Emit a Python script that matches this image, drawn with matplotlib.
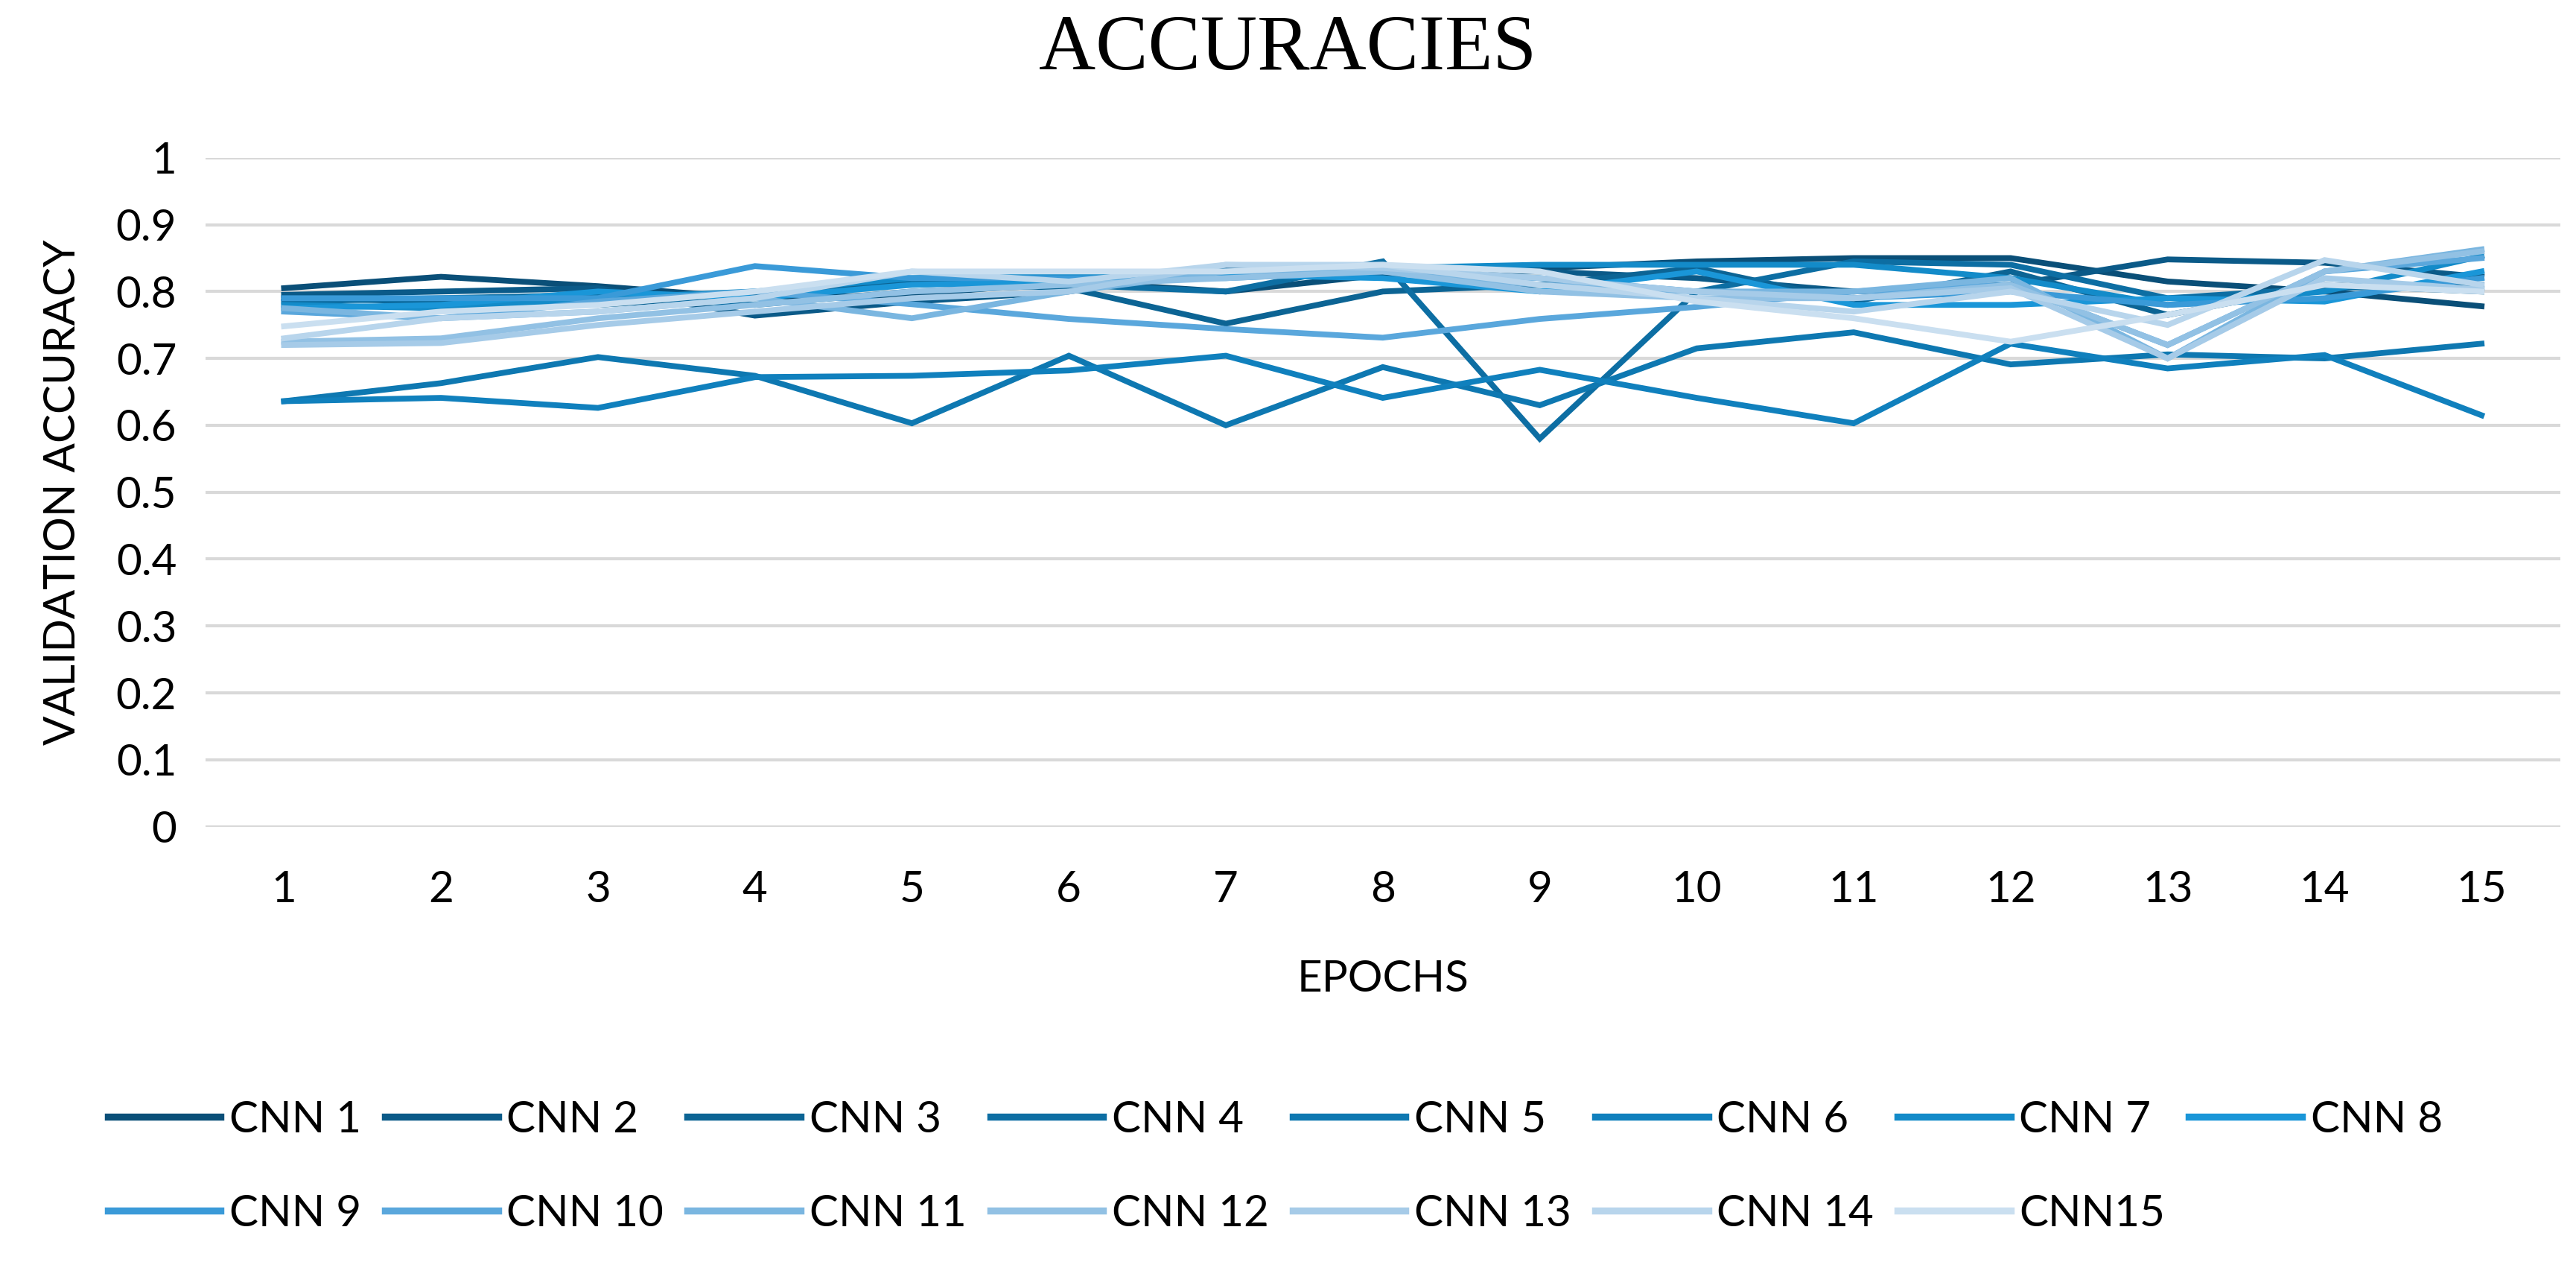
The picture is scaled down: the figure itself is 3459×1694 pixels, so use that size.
import numpy as np
import matplotlib.pyplot as plt

epochs = list(range(1, 16))
names = ["CNN 1", "CNN 2", "CNN 3", "CNN 4", "CNN 5", "CNN 6", "CNN 7", "CNN 8",
         "CNN 9", "CNN 10", "CNN 11", "CNN 12", "CNN 13", "CNN 14", "CNN15"]

cnn1 = [0.805, 0.822, 0.808, 0.790, 0.795, 0.815, 0.800, 0.825, 0.835, 0.845, 0.850, 0.850, 0.815, 0.800, 0.778]
cnn2 = [0.795, 0.800, 0.805, 0.764, 0.785, 0.800, 0.835, 0.830, 0.830, 0.820, 0.800, 0.810, 0.848, 0.843, 0.822]
cnn3 = [0.790, 0.785, 0.780, 0.795, 0.815, 0.805, 0.752, 0.800, 0.810, 0.835, 0.785, 0.830, 0.765, 0.810, 0.800]
cnn4 = [0.785, 0.790, 0.795, 0.780, 0.800, 0.810, 0.800, 0.845, 0.580, 0.800, 0.845, 0.840, 0.790, 0.805, 0.810]
cnn5 = [0.636, 0.663, 0.702, 0.674, 0.603, 0.704, 0.600, 0.687, 0.630, 0.715, 0.739, 0.691, 0.706, 0.700, 0.722]
cnn6 = [0.636, 0.641, 0.626, 0.672, 0.674, 0.682, 0.704, 0.641, 0.683, 0.641, 0.603, 0.722, 0.685, 0.705, 0.615]
cnn7 = [0.780, 0.775, 0.790, 0.800, 0.820, 0.825, 0.830, 0.835, 0.840, 0.840, 0.840, 0.820, 0.780, 0.800, 0.853]
cnn8 = [0.775, 0.780, 0.800, 0.790, 0.810, 0.815, 0.825, 0.820, 0.800, 0.830, 0.780, 0.780, 0.790, 0.785, 0.830]
cnn9 = [0.790, 0.790, 0.790, 0.838, 0.820, 0.820, 0.820, 0.830, 0.820, 0.800, 0.790, 0.800, 0.780, 0.790, 0.820]
cnn10 = [0.770, 0.760, 0.785, 0.800, 0.781, 0.759, 0.744, 0.731, 0.759, 0.777, 0.800, 0.810, 0.720, 0.830, 0.850]
cnn11 = [0.775, 0.760, 0.770, 0.790, 0.760, 0.800, 0.830, 0.830, 0.810, 0.800, 0.800, 0.820, 0.700, 0.830, 0.863]
cnn12 = [0.725, 0.730, 0.760, 0.780, 0.800, 0.810, 0.820, 0.830, 0.800, 0.790, 0.790, 0.810, 0.720, 0.830, 0.860]
cnn13 = [0.720, 0.723, 0.750, 0.770, 0.790, 0.800, 0.840, 0.835, 0.820, 0.800, 0.790, 0.805, 0.700, 0.820, 0.803]
cnn14 = [0.730, 0.760, 0.770, 0.790, 0.830, 0.815, 0.840, 0.840, 0.810, 0.790, 0.770, 0.800, 0.750, 0.847, 0.810]
cnn15 = [0.748, 0.770, 0.780, 0.800, 0.830, 0.830, 0.830, 0.840, 0.830, 0.785, 0.760, 0.725, 0.765, 0.810, 0.800]

series = [cnn1, cnn2, cnn3, cnn4, cnn5, cnn6, cnn7, cnn8,
          cnn9, cnn10, cnn11, cnn12, cnn13, cnn14, cnn15]
colors = ["#0a4f78", "#0b5a88", "#0c6494", "#0d6ea3", "#0e78b1", "#1080bd", "#138bc9", "#1a96d8",
          "#3a9ad8", "#5aa7dc", "#7ab6e0", "#92c1e4", "#a6cbe8", "#b8d5ec", "#cadff0"]

plt.rcParams['font.family'] = ['Lato', 'DejaVu Sans']

fig = plt.figure(figsize=(3459 / 200, 1694 / 200), dpi=200)
ax = fig.add_axes([0.0798, 0.345, 0.914, 0.530])

lines = []
for vals, name, c in zip(series, names, colors):
    ln, = ax.plot(epochs, vals, color=c, lw=2.8, label=name, solid_joinstyle='miter')
    lines.append(ln)

ax.set_xlim(0.5, 15.5)
ax.set_ylim(0, 1)
ax.set_xticks(epochs)
ax.set_yticks(np.arange(0, 1.01, 0.1))
ax.set_yticklabels(["0", "0.1", "0.2", "0.3", "0.4", "0.5", "0.6", "0.7", "0.8", "0.9", "1"])
ax.grid(axis='y', color='#d9d9d9', lw=1.5)
ax.set_axisbelow(True)
for s in ax.spines.values():
    s.set_visible(False)
ax.tick_params(axis='x', length=0, labelsize=21, pad=21)
ax.tick_params(axis='y', length=0, labelsize=21, pad=14)

ax.set_xlabel("EPOCHS", fontsize=21, labelpad=24)
ax.set_ylabel("VALIDATION ACCURACY", fontsize=21, labelpad=16)
fig.text(0.5, 0.96, "ACCURACIES", ha='center', va='center', fontsize=38,
         family='Liberation Serif')

# legend filled row by row: 8 in the first row, 7 in the second
order = []
for i in range(8):
    order.append(i)
    if i + 8 < 15:
        order.append(i + 8)
leg = fig.legend([lines[i] for i in order], [names[i] for i in order],
                 loc='center', bbox_to_anchor=(0.495, 0.0755), ncol=8, frameon=False,
                 fontsize=21, handlelength=2.6, handletextpad=0.2, columnspacing=0.55,
                 labelspacing=1.25)
for h in leg.legend_handles:
    h.set_linewidth(3.4)

fig.savefig("out.png", dpi=200)
